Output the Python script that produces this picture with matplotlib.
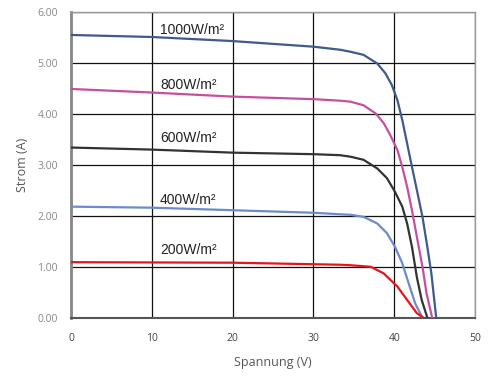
import matplotlib
matplotlib.use("Agg")
import matplotlib.pyplot as plt

# Data (voltage V, current A)
v_1000 = [0, 10, 20, 30, 33.3, 34.6, 36.2, 37.9, 38.9, 39.7, 40.4, 41.0, 41.6, 42.2, 42.8, 43.5, 44.1, 44.6, 45.2]
i_1000 = [5.55, 5.51, 5.43, 5.32, 5.26, 5.22, 5.16, 4.99, 4.80, 4.57, 4.27, 3.88, 3.42, 2.96, 2.51, 1.98, 1.39, 0.87, 0]

v_800 = [0, 10, 20, 30, 33.3, 34.6, 36.2, 37.7, 38.7, 39.5, 40.4, 41.0, 41.6, 42.2, 42.8, 43.5, 44.0, 44.7]
i_800 = [4.49, 4.42, 4.34, 4.29, 4.26, 4.24, 4.17, 4.01, 3.82, 3.59, 3.29, 2.96, 2.57, 2.11, 1.59, 1.0, 0.48, 0]

v_600 = [0, 10, 20, 30, 33.3, 34.6, 36.2, 37.9, 39.1, 40.1, 41.0, 41.6, 42.2, 42.8, 43.4, 44.1]
i_600 = [3.34, 3.30, 3.24, 3.21, 3.19, 3.16, 3.10, 2.93, 2.74, 2.47, 2.18, 1.85, 1.39, 0.80, 0.35, 0]

v_400 = [0, 10, 20, 30, 33.3, 34.6, 36.2, 37.9, 39.1, 40.1, 41.0, 41.8, 42.6, 43.5]
i_400 = [2.18, 2.16, 2.11, 2.06, 2.03, 2.02, 1.98, 1.85, 1.66, 1.39, 1.07, 0.67, 0.28, 0]

v_200 = [0, 20, 33.3, 34.6, 37.1, 38.7, 40.4, 41.6, 42.8, 43.6]
i_200 = [1.09, 1.08, 1.04, 1.03, 1.0, 0.87, 0.61, 0.35, 0.09, 0]

labels = ["1000W/m²", "800W/m²", "600W/m²", "400W/m²", "200W/m²"]
label_y = [5.64, 4.57, 3.53, 2.32, 1.33]
label_x = 11.0
colors = ["#3f5a8c", "#c74f9f", "#333333", "#6b8bcc", "#e8141c"]

x_ticks = [0, 10, 20, 30, 40, 50]
y_ticks = [0, 1, 2, 3, 4, 5, 6]

fig = plt.figure(figsize=(4.91, 3.76), dpi=100)
ax = fig.add_axes([0.1446, 0.155, 0.8228, 0.813])

series = [(v_1000, i_1000), (v_800, i_800), (v_600, i_600), (v_400, i_400), (v_200, i_200)]
for (v, i), c in zip(series, colors):
    ax.plot(v, i, color=c, lw=1.6, solid_joinstyle="round", zorder=3)

for lab, ly in zip(labels, label_y):
    ax.text(label_x, ly, lab, fontsize=10, family="Liberation Sans", color="#222222",
            va="center", ha="left", zorder=4)

ax.set_xlim(0, 50)
ax.set_ylim(0, 6)
ax.set_xticks(x_ticks)
ax.set_yticks(y_ticks)
ax.set_xticklabels([str(t) for t in x_ticks])
ax.set_yticklabels([f"{t:.2f}" for t in y_ticks])
ax.grid(True, color="#111111", lw=0.9, zorder=1)
ax.tick_params(length=0, colors="#888888", labelsize=7.5)
ax.tick_params(axis="y", pad=9.5)
ax.tick_params(axis="x", pad=11)
for lab in ax.get_xticklabels():
    lab.set_color("#444444")
    lab.set_family("Open Sans")
for lab in ax.get_yticklabels():
    lab.set_family("Open Sans")

for s in ["top", "right"]:
    ax.spines[s].set_color("#999999")
    ax.spines[s].set_linewidth(1.0)
ax.spines["left"].set_color("#888888")
ax.spines["left"].set_linewidth(2.0)
ax.spines["bottom"].set_color("#555555")
ax.spines["bottom"].set_linewidth(1.5)

ax.set_xlabel("Spannung (V)", fontsize=9, family="Open Sans", color="#555555", labelpad=9)
ax.set_ylabel("Strom (A)", fontsize=9, family="Open Sans", color="#555555", labelpad=6)

fig.savefig("out.png", dpi=100)
